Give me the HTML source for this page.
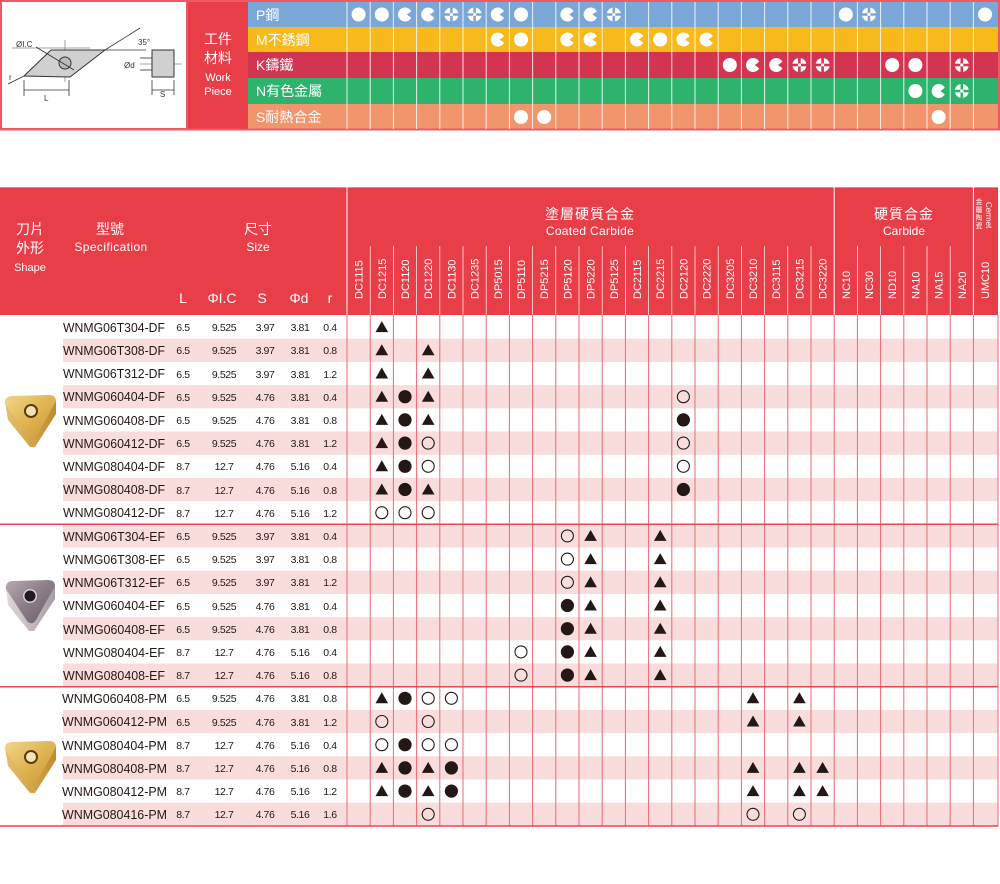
<!DOCTYPE html>
<html><head><meta charset="utf-8"><style>
html,body{margin:0;padding:0;background:#fff;}
svg{display:block;}
text{font-family:"Liberation Sans","Noto Sans CJK TC",sans-serif;}
</style></head><body>
<svg width="1000" height="884" viewBox="0 0 1000 884" xmlns="http://www.w3.org/2000/svg">
<defs>
<path id="C" d="M6.2,-3.2 A7,7 0 1 0 6.2,3.2 L1.8,0 Z" fill="#fff"/>
<circle id="F" r="7" fill="#fff"/>
<circle id="bf" r="6.6" fill="#231815"/>
<circle id="bo" r="6" fill="none" stroke="#231815" stroke-width="1.1"/>
<path id="bt" d="M0,-6 L6.3,5 L-6.3,5 Z" fill="#231815"/>
<linearGradient id="gold" x1="0" y1="0" x2="1" y2="1"><stop offset="0" stop-color="#f2d68c"/><stop offset="0.5" stop-color="#e0b552"/><stop offset="1" stop-color="#c89434"/></linearGradient>
<linearGradient id="goldS" x1="0" y1="0" x2="1" y2="0"><stop offset="0" stop-color="#e6c070"/><stop offset="1" stop-color="#c08a2c"/></linearGradient>
<linearGradient id="gray" x1="0" y1="0" x2="1" y2="1"><stop offset="0" stop-color="#b8aab2"/><stop offset="0.5" stop-color="#8a7c86"/><stop offset="1" stop-color="#6a5e68"/></linearGradient>
<linearGradient id="grayS" x1="0" y1="0" x2="1" y2="0"><stop offset="0" stop-color="#e0d8dc"/><stop offset="1" stop-color="#a89ca4"/></linearGradient>
</defs>

<!-- TOP SECTION -->
<rect x="1" y="1" width="186" height="128" fill="#fff" stroke="#ec5a63" stroke-width="2"/>
<g stroke="#333" stroke-width="0.8" fill="none">
<line x1="12" y1="48" x2="90" y2="48" stroke="#888"/>
<line x1="65" y1="40" x2="65" y2="82" stroke="#888"/>
<line x1="105" y1="50" x2="140" y2="28"/>
<line x1="105" y1="50" x2="146" y2="50"/>
<line x1="24" y1="90" x2="69" y2="90"/>
<line x1="24" y1="80" x2="24" y2="96"/>
<line x1="69" y1="80" x2="69" y2="96"/>
<line x1="152" y1="90" x2="174" y2="90"/>
<line x1="152" y1="80" x2="152" y2="95"/>
<line x1="174" y1="80" x2="174" y2="95"/>
<line x1="140" y1="64" x2="182" y2="64" stroke="#888"/>
<line x1="140" y1="58" x2="152" y2="58"/>
<line x1="140" y1="70" x2="152" y2="70"/>
<line x1="8" y1="84" x2="24" y2="76"/>
</g>
<path d="M24,76 L51,50 L105,50 L70,77 Z" fill="#d0d0d0" stroke="#333" stroke-width="1"/>
<circle cx="65" cy="63" r="6" fill="#bbb" stroke="#333" stroke-width="1"/>
<line x1="36" y1="47" x2="74" y2="70" stroke="#333" stroke-width="0.9"/>
<rect x="152" y="50" width="22" height="27" fill="#d0d0d0" stroke="#333" stroke-width="1"/>
<text x="16" y="47" font-size="8" fill="#333">ØI.C</text>
<text x="138" y="45" font-size="8" fill="#333">35°</text>
<text x="124" y="68" font-size="8" fill="#333">Ød</text>
<text x="44" y="101" font-size="8" fill="#333">L</text>
<text x="160" y="97" font-size="8" fill="#333">S</text>
<text x="9" y="80" font-size="8" fill="#333">r</text>

<rect x="188" y="1" width="60" height="128" fill="#e83e48"/>
<text x="218" y="44" font-size="14" fill="#fff" text-anchor="middle">工件</text>
<text x="218" y="63" font-size="14" fill="#fff" text-anchor="middle">材料</text>
<text x="218" y="81" font-size="11" fill="#fff" text-anchor="middle">Work</text>
<text x="218" y="95" font-size="11" fill="#fff" text-anchor="middle">Piece</text>

<rect x="248" y="2" width="750" height="25" fill="#7ba7d8"/>
<rect x="248" y="27" width="750" height="25" fill="#f8b91b"/>
<rect x="248" y="52" width="750" height="26" fill="#d33550"/>
<rect x="248" y="78" width="750" height="26" fill="#2db36b"/>
<rect x="248" y="104" width="750" height="25" fill="#f0956c"/>
<line x1="0" y1="1" x2="1000" y2="1" stroke="#ec5a63" stroke-width="2"/>
<line x1="0" y1="129.5" x2="1000" y2="129.5" stroke="#ec5a63" stroke-width="2"/>
<line x1="999" y1="0" x2="999" y2="130" stroke="#ec5a63" stroke-width="2"/>
<text x="256" y="20" font-size="14" fill="#fff">P鋼</text>
<text x="256" y="45" font-size="14" fill="#fff">M不銹鋼</text>
<text x="256" y="70" font-size="14" fill="#fff">K鑄鐵</text>
<text x="256" y="96" font-size="14" fill="#fff">N有色金屬</text>
<text x="256" y="122" font-size="14" fill="#fff">S耐熱合金</text>
<g stroke="#fff" stroke-width="1" opacity="0.85">
<line x1="347" y1="2" x2="347" y2="129"/><line x1="370.2" y1="2" x2="370.2" y2="129"/><line x1="393.4" y1="2" x2="393.4" y2="129"/><line x1="416.6" y1="2" x2="416.6" y2="129"/><line x1="439.8" y1="2" x2="439.8" y2="129"/><line x1="463" y1="2" x2="463" y2="129"/><line x1="486.2" y1="2" x2="486.2" y2="129"/><line x1="509.4" y1="2" x2="509.4" y2="129"/><line x1="532.6" y1="2" x2="532.6" y2="129"/><line x1="555.8" y1="2" x2="555.8" y2="129"/><line x1="579" y1="2" x2="579" y2="129"/><line x1="602.2" y1="2" x2="602.2" y2="129"/><line x1="625.4" y1="2" x2="625.4" y2="129"/><line x1="648.6" y1="2" x2="648.6" y2="129"/><line x1="671.8" y1="2" x2="671.8" y2="129"/><line x1="695" y1="2" x2="695" y2="129"/><line x1="718.2" y1="2" x2="718.2" y2="129"/><line x1="741.4" y1="2" x2="741.4" y2="129"/><line x1="764.6" y1="2" x2="764.6" y2="129"/><line x1="787.8" y1="2" x2="787.8" y2="129"/><line x1="811" y1="2" x2="811" y2="129"/><line x1="834.2" y1="2" x2="834.2" y2="129"/><line x1="857.4" y1="2" x2="857.4" y2="129"/><line x1="880.6" y1="2" x2="880.6" y2="129"/><line x1="903.8" y1="2" x2="903.8" y2="129"/><line x1="927" y1="2" x2="927" y2="129"/><line x1="950.2" y1="2" x2="950.2" y2="129"/><line x1="973.4" y1="2" x2="973.4" y2="129"/>
</g>
<!-- P row -->
<use href="#F" x="358.6" y="14.5"/><use href="#F" x="381.8" y="14.5"/><use href="#C" x="405" y="14.5"/><use href="#C" x="428.2" y="14.5"/>
<g transform="translate(451.4,14.5)"><circle r="7" fill="#fff"/><rect x="-8" y="-1.3" width="16" height="2.6" fill="#7ba7d8"/><rect x="-1.3" y="-8" width="2.6" height="16" fill="#7ba7d8"/><circle r="1.6" fill="#fff"/></g>
<g transform="translate(474.6,14.5)"><circle r="7" fill="#fff"/><rect x="-8" y="-1.3" width="16" height="2.6" fill="#7ba7d8"/><rect x="-1.3" y="-8" width="2.6" height="16" fill="#7ba7d8"/><circle r="1.6" fill="#fff"/></g>
<use href="#C" x="497.8" y="14.5"/><use href="#F" x="521" y="14.5"/><use href="#C" x="567.4" y="14.5"/><use href="#C" x="590.6" y="14.5"/>
<g transform="translate(613.8,14.5)"><circle r="7" fill="#fff"/><rect x="-8" y="-1.3" width="16" height="2.6" fill="#7ba7d8"/><rect x="-1.3" y="-8" width="2.6" height="16" fill="#7ba7d8"/><circle r="1.6" fill="#fff"/></g>
<use href="#F" x="845.8" y="14.5"/>
<g transform="translate(869,14.5)"><circle r="7" fill="#fff"/><rect x="-8" y="-1.3" width="16" height="2.6" fill="#7ba7d8"/><rect x="-1.3" y="-8" width="2.6" height="16" fill="#7ba7d8"/><circle r="1.6" fill="#fff"/></g>
<use href="#F" x="985" y="14.5"/>
<!-- M row -->
<use href="#C" x="497.8" y="39.5"/><use href="#F" x="521" y="39.5"/><use href="#C" x="567.4" y="39.5"/><use href="#C" x="590.6" y="39.5"/><use href="#C" x="637" y="39.5"/><use href="#F" x="660.2" y="39.5"/><use href="#C" x="683.4" y="39.5"/><use href="#C" x="706.6" y="39.5"/>
<!-- K row -->
<use href="#F" x="729.8" y="65"/><use href="#C" x="753" y="65"/><use href="#C" x="776.2" y="65"/>
<g transform="translate(799.4,65)"><circle r="7" fill="#fff"/><rect x="-8" y="-1.3" width="16" height="2.6" fill="#d33550"/><rect x="-1.3" y="-8" width="2.6" height="16" fill="#d33550"/><circle r="1.6" fill="#fff"/></g>
<g transform="translate(822.6,65)"><circle r="7" fill="#fff"/><rect x="-8" y="-1.3" width="16" height="2.6" fill="#d33550"/><rect x="-1.3" y="-8" width="2.6" height="16" fill="#d33550"/><circle r="1.6" fill="#fff"/></g>
<use href="#F" x="892.2" y="65"/><use href="#F" x="915.4" y="65"/>
<g transform="translate(961.8,65)"><circle r="7" fill="#fff"/><rect x="-8" y="-1.3" width="16" height="2.6" fill="#d33550"/><rect x="-1.3" y="-8" width="2.6" height="16" fill="#d33550"/><circle r="1.6" fill="#fff"/></g>
<!-- N row -->
<use href="#F" x="915.4" y="91"/><use href="#C" x="938.6" y="91"/>
<g transform="translate(961.8,91)"><circle r="7" fill="#fff"/><rect x="-8" y="-1.3" width="16" height="2.6" fill="#2db36b"/><rect x="-1.3" y="-8" width="2.6" height="16" fill="#2db36b"/><circle r="1.6" fill="#fff"/></g>
<!-- S row -->
<use href="#F" x="521" y="117"/><use href="#F" x="544.2" y="117"/><use href="#F" x="938.6" y="117"/>

<!-- MAIN HEADER -->
<rect x="0" y="187" width="998" height="128" fill="#e83e48"/>
<line x1="0" y1="187.5" x2="998" y2="187.5" stroke="#f08088" stroke-width="1"/>
<text x="30" y="234" font-size="14" fill="#fff" text-anchor="middle">刀片</text>
<text x="30" y="253" font-size="14" fill="#fff" text-anchor="middle">外形</text>
<text x="30" y="271" font-size="11" fill="#fff" text-anchor="middle">Shape</text>
<text x="110" y="234" font-size="14" fill="#fff" text-anchor="middle">型號</text>
<text x="111" y="251" font-size="12" fill="#fff" text-anchor="middle" letter-spacing="0.4">Specification</text>
<text x="258" y="234" font-size="14" fill="#fff" text-anchor="middle">尺寸</text>
<text x="258" y="251" font-size="12" fill="#fff" text-anchor="middle">Size</text>
<text x="183" y="303" font-size="14" fill="#fff" text-anchor="middle">L</text>
<text x="222" y="303" font-size="14" fill="#fff" text-anchor="middle">ΦI.C</text>
<text x="262" y="303" font-size="14" fill="#fff" text-anchor="middle">S</text>
<text x="299" y="303" font-size="14" fill="#fff" text-anchor="middle">Φd</text>
<text x="330" y="303" font-size="14" fill="#fff" text-anchor="middle">r</text>
<text x="590" y="219" font-size="14" fill="#fff" text-anchor="middle" letter-spacing="1">塗層硬質合金</text>
<text x="590" y="235" font-size="12" fill="#fff" text-anchor="middle" letter-spacing="0.3">Coated Carbide</text>
<text x="904" y="219" font-size="14" fill="#fff" text-anchor="middle" letter-spacing="1">硬質合金</text>
<text x="904" y="235" font-size="12" fill="#fff" text-anchor="middle">Carbide</text>
<text x="979" y="204" font-size="7" fill="#fff" text-anchor="middle">金</text>
<text x="979" y="212" font-size="7" fill="#fff" text-anchor="middle">屬</text>
<text x="979" y="220" font-size="7" fill="#fff" text-anchor="middle">陶</text>
<text x="979" y="228" font-size="7" fill="#fff" text-anchor="middle">瓷</text>
<text transform="translate(986,202) rotate(90)" font-size="8" fill="#fff">Cermet</text>
<g stroke="#fff" stroke-width="1">
<line x1="347" y1="187" x2="347" y2="315"/><line x1="834.2" y1="187" x2="834.2" y2="315"/><line x1="973.4" y1="187" x2="973.4" y2="315"/>
</g>
<g stroke="#fff" stroke-width="0.8" opacity="0.85">
<line x1="370.2" y1="246" x2="370.2" y2="315"/><line x1="393.4" y1="246" x2="393.4" y2="315"/><line x1="416.6" y1="246" x2="416.6" y2="315"/><line x1="439.8" y1="246" x2="439.8" y2="315"/><line x1="463" y1="246" x2="463" y2="315"/><line x1="486.2" y1="246" x2="486.2" y2="315"/><line x1="509.4" y1="246" x2="509.4" y2="315"/><line x1="532.6" y1="246" x2="532.6" y2="315"/><line x1="555.8" y1="246" x2="555.8" y2="315"/><line x1="579" y1="246" x2="579" y2="315"/><line x1="602.2" y1="246" x2="602.2" y2="315"/><line x1="625.4" y1="246" x2="625.4" y2="315"/><line x1="648.6" y1="246" x2="648.6" y2="315"/><line x1="671.8" y1="246" x2="671.8" y2="315"/><line x1="695" y1="246" x2="695" y2="315"/><line x1="718.2" y1="246" x2="718.2" y2="315"/><line x1="741.4" y1="246" x2="741.4" y2="315"/><line x1="764.6" y1="246" x2="764.6" y2="315"/><line x1="787.8" y1="246" x2="787.8" y2="315"/><line x1="811" y1="246" x2="811" y2="315"/><line x1="857.4" y1="246" x2="857.4" y2="315"/><line x1="880.6" y1="246" x2="880.6" y2="315"/><line x1="903.8" y1="246" x2="903.8" y2="315"/><line x1="927" y1="246" x2="927" y2="315"/><line x1="950.2" y1="246" x2="950.2" y2="315"/>
</g>
<g font-size="11" fill="#fff">
<text transform="translate(362.6,299) rotate(-90)">DC1115</text>
<text transform="translate(385.8,299) rotate(-90)">DC1215</text>
<text transform="translate(409,299) rotate(-90)">DC1120</text>
<text transform="translate(432.2,299) rotate(-90)">DC1220</text>
<text transform="translate(455.4,299) rotate(-90)">DC1130</text>
<text transform="translate(478.6,299) rotate(-90)">DC1235</text>
<text transform="translate(501.8,299) rotate(-90)">DP5015</text>
<text transform="translate(525,299) rotate(-90)">DP5110</text>
<text transform="translate(548.2,299) rotate(-90)">DP5215</text>
<text transform="translate(571.4,299) rotate(-90)">DP5120</text>
<text transform="translate(594.6,299) rotate(-90)">DP5220</text>
<text transform="translate(617.8,299) rotate(-90)">DP5125</text>
<text transform="translate(641,299) rotate(-90)">DC2115</text>
<text transform="translate(664.2,299) rotate(-90)">DC2215</text>
<text transform="translate(687.4,299) rotate(-90)">DC2120</text>
<text transform="translate(710.6,299) rotate(-90)">DC2220</text>
<text transform="translate(733.8,299) rotate(-90)">DC3205</text>
<text transform="translate(757,299) rotate(-90)">DC3210</text>
<text transform="translate(780.2,299) rotate(-90)">DC3115</text>
<text transform="translate(803.4,299) rotate(-90)">DC3215</text>
<text transform="translate(826.6,299) rotate(-90)">DC3220</text>
<text transform="translate(849.8,299) rotate(-90)">NC10</text>
<text transform="translate(873,299) rotate(-90)">NC30</text>
<text transform="translate(896.2,299) rotate(-90)">ND10</text>
<text transform="translate(919.4,299) rotate(-90)">NA10</text>
<text transform="translate(942.6,299) rotate(-90)">NA15</text>
<text transform="translate(965.8,299) rotate(-90)">NA20</text>
<text transform="translate(989,299) rotate(-90)">UMC10</text>
</g>

<!-- BODY pink rows (odd j) -->
<g fill="#f9dcdc">
<rect x="63" y="338.7" width="935" height="23.2"/>
<rect x="63" y="385.1" width="935" height="23.2"/>
<rect x="63" y="431.5" width="935" height="23.2"/>
<rect x="63" y="477.9" width="935" height="23.2"/>
<rect x="63" y="524.3" width="935" height="23.2"/>
<rect x="63" y="570.7" width="935" height="23.2"/>
<rect x="63" y="617.1" width="935" height="23.2"/>
<rect x="63" y="663.5" width="935" height="23.2"/>
<rect x="63" y="709.9" width="935" height="23.2"/>
<rect x="63" y="756.3" width="935" height="23.2"/>
<rect x="63" y="802.7" width="935" height="23.2"/>
</g>
<g stroke="#ef6870" stroke-width="1">
<line x1="347" y1="315" x2="347" y2="826"/><line x1="370.2" y1="315" x2="370.2" y2="826"/><line x1="393.4" y1="315" x2="393.4" y2="826"/><line x1="416.6" y1="315" x2="416.6" y2="826"/><line x1="439.8" y1="315" x2="439.8" y2="826"/><line x1="463" y1="315" x2="463" y2="826"/><line x1="486.2" y1="315" x2="486.2" y2="826"/><line x1="509.4" y1="315" x2="509.4" y2="826"/><line x1="532.6" y1="315" x2="532.6" y2="826"/><line x1="555.8" y1="315" x2="555.8" y2="826"/><line x1="579" y1="315" x2="579" y2="826"/><line x1="602.2" y1="315" x2="602.2" y2="826"/><line x1="625.4" y1="315" x2="625.4" y2="826"/><line x1="648.6" y1="315" x2="648.6" y2="826"/><line x1="671.8" y1="315" x2="671.8" y2="826"/><line x1="695" y1="315" x2="695" y2="826"/><line x1="718.2" y1="315" x2="718.2" y2="826"/><line x1="741.4" y1="315" x2="741.4" y2="826"/><line x1="764.6" y1="315" x2="764.6" y2="826"/><line x1="787.8" y1="315" x2="787.8" y2="826"/><line x1="811" y1="315" x2="811" y2="826"/><line x1="834.2" y1="315" x2="834.2" y2="826"/><line x1="857.4" y1="315" x2="857.4" y2="826"/><line x1="880.6" y1="315" x2="880.6" y2="826"/><line x1="903.8" y1="315" x2="903.8" y2="826"/><line x1="927" y1="315" x2="927" y2="826"/><line x1="950.2" y1="315" x2="950.2" y2="826"/><line x1="973.4" y1="315" x2="973.4" y2="826"/><line x1="998" y1="315" x2="998" y2="826"/>
</g>
<g stroke="#e8474f" stroke-width="1.5">
<line x1="0" y1="524.3" x2="998" y2="524.3"/><line x1="0" y1="686.7" x2="998" y2="686.7"/><line x1="0" y1="826" x2="998" y2="826"/>
</g>

<!-- insert images -->
<g>
<path d="M5,402 L8,420 L30,447 L35,447 L56,414 L56,401 Z" fill="url(#goldS)"/>
<path d="M5,401 Q6,396 12,396 L49,395 Q56,395 56,401 L37,436 Q33,442 28,437 L7,407 Q4,404 5,401 Z" fill="url(#gold)"/>
<circle cx="31" cy="411" r="7" fill="#5a3c10"/>
<circle cx="31" cy="411" r="5" fill="#f4e3b4"/>
<path d="M6,587 L8,605 L29,631 L34,631 L55,599 L55,586 Z" fill="url(#grayS)"/>
<path d="M6,586 Q7,581 13,581 L48,580 Q55,580 55,586 L36,620 Q32,626 27,621 L8,592 Q5,589 6,586 Z" fill="url(#gray)"/>
<circle cx="30" cy="596" r="7" fill="#d8d0d4"/>
<circle cx="30" cy="596" r="5.5" fill="#1e1a20"/>
<path d="M5,748 L8,766 L30,793 L35,793 L56,760 L56,747 Z" fill="url(#goldS)"/>
<path d="M5,747 Q6,742 12,742 L49,741 Q56,741 56,747 L37,782 Q33,788 28,783 L7,753 Q4,750 5,747 Z" fill="url(#gold)"/>
<circle cx="31" cy="757" r="7" fill="#5a3c10"/>
<circle cx="31" cy="757" r="5" fill="#f4e3b4"/>
</g>

<!-- model & size text -->
<g font-size="13" fill="#231815">
<text x="63" y="332" textLength="102" lengthAdjust="spacingAndGlyphs">WNMG06T304-DF</text>
<text x="63" y="355" textLength="102" lengthAdjust="spacingAndGlyphs">WNMG06T308-DF</text>
<text x="63" y="378" textLength="102" lengthAdjust="spacingAndGlyphs">WNMG06T312-DF</text>
<text x="63" y="401" textLength="102" lengthAdjust="spacingAndGlyphs">WNMG060404-DF</text>
<text x="63" y="425" textLength="102" lengthAdjust="spacingAndGlyphs">WNMG060408-DF</text>
<text x="63" y="448" textLength="102" lengthAdjust="spacingAndGlyphs">WNMG060412-DF</text>
<text x="63" y="471" textLength="102" lengthAdjust="spacingAndGlyphs">WNMG080404-DF</text>
<text x="63" y="494" textLength="102" lengthAdjust="spacingAndGlyphs">WNMG080408-DF</text>
<text x="63" y="517" textLength="102" lengthAdjust="spacingAndGlyphs">WNMG080412-DF</text>
<text x="63" y="541" textLength="102" lengthAdjust="spacingAndGlyphs">WNMG06T304-EF</text>
<text x="63" y="564" textLength="102" lengthAdjust="spacingAndGlyphs">WNMG06T308-EF</text>
<text x="63" y="587" textLength="102" lengthAdjust="spacingAndGlyphs">WNMG06T312-EF</text>
<text x="63" y="610" textLength="102" lengthAdjust="spacingAndGlyphs">WNMG060404-EF</text>
<text x="63" y="634" textLength="102" lengthAdjust="spacingAndGlyphs">WNMG060408-EF</text>
<text x="63" y="657" textLength="102" lengthAdjust="spacingAndGlyphs">WNMG080404-EF</text>
<text x="63" y="680" textLength="102" lengthAdjust="spacingAndGlyphs">WNMG080408-EF</text>
<text x="62" y="703" textLength="105" lengthAdjust="spacingAndGlyphs">WNMG060408-PM</text>
<text x="62" y="726" textLength="105" lengthAdjust="spacingAndGlyphs">WNMG060412-PM</text>
<text x="62" y="750" textLength="105" lengthAdjust="spacingAndGlyphs">WNMG080404-PM</text>
<text x="62" y="773" textLength="105" lengthAdjust="spacingAndGlyphs">WNMG080408-PM</text>
<text x="62" y="796" textLength="105" lengthAdjust="spacingAndGlyphs">WNMG080412-PM</text>
<text x="62" y="819" textLength="105" lengthAdjust="spacingAndGlyphs">WNMG080416-PM</text>
</g>
<g font-size="10.5" fill="#231815" text-anchor="middle" letter-spacing="-0.4">
<text x="183" y="331">6.5</text><text x="224" y="331">9.525</text><text x="265" y="331">3.97</text><text x="300" y="331">3.81</text><text x="330" y="331">0.4</text>
<text x="183" y="354">6.5</text><text x="224" y="354">9.525</text><text x="265" y="354">3.97</text><text x="300" y="354">3.81</text><text x="330" y="354">0.8</text>
<text x="183" y="378">6.5</text><text x="224" y="378">9.525</text><text x="265" y="378">3.97</text><text x="300" y="378">3.81</text><text x="330" y="378">1.2</text>
<text x="183" y="401">6.5</text><text x="224" y="401">9.525</text><text x="265" y="401">4.76</text><text x="300" y="401">3.81</text><text x="330" y="401">0.4</text>
<text x="183" y="424">6.5</text><text x="224" y="424">9.525</text><text x="265" y="424">4.76</text><text x="300" y="424">3.81</text><text x="330" y="424">0.8</text>
<text x="183" y="447">6.5</text><text x="224" y="447">9.525</text><text x="265" y="447">4.76</text><text x="300" y="447">3.81</text><text x="330" y="447">1.2</text>
<text x="183" y="470">8.7</text><text x="224" y="470">12.7</text><text x="265" y="470">4.76</text><text x="300" y="470">5.16</text><text x="330" y="470">0.4</text>
<text x="183" y="494">8.7</text><text x="224" y="494">12.7</text><text x="265" y="494">4.76</text><text x="300" y="494">5.16</text><text x="330" y="494">0.8</text>
<text x="183" y="517">8.7</text><text x="224" y="517">12.7</text><text x="265" y="517">4.76</text><text x="300" y="517">5.16</text><text x="330" y="517">1.2</text>
<text x="183" y="540">6.5</text><text x="224" y="540">9.525</text><text x="265" y="540">3.97</text><text x="300" y="540">3.81</text><text x="330" y="540">0.4</text>
<text x="183" y="563">6.5</text><text x="224" y="563">9.525</text><text x="265" y="563">3.97</text><text x="300" y="563">3.81</text><text x="330" y="563">0.8</text>
<text x="183" y="586">6.5</text><text x="224" y="586">9.525</text><text x="265" y="586">3.97</text><text x="300" y="586">3.81</text><text x="330" y="586">1.2</text>
<text x="183" y="610">6.5</text><text x="224" y="610">9.525</text><text x="265" y="610">4.76</text><text x="300" y="610">3.81</text><text x="330" y="610">0.4</text>
<text x="183" y="633">6.5</text><text x="224" y="633">9.525</text><text x="265" y="633">4.76</text><text x="300" y="633">3.81</text><text x="330" y="633">0.8</text>
<text x="183" y="656">8.7</text><text x="224" y="656">12.7</text><text x="265" y="656">4.76</text><text x="300" y="656">5.16</text><text x="330" y="656">0.4</text>
<text x="183" y="679">8.7</text><text x="224" y="679">12.7</text><text x="265" y="679">4.76</text><text x="300" y="679">5.16</text><text x="330" y="679">0.8</text>
<text x="183" y="702">6.5</text><text x="224" y="702">9.525</text><text x="265" y="702">4.76</text><text x="300" y="702">3.81</text><text x="330" y="702">0.8</text>
<text x="183" y="726">6.5</text><text x="224" y="726">9.525</text><text x="265" y="726">4.76</text><text x="300" y="726">3.81</text><text x="330" y="726">1.2</text>
<text x="183" y="749">8.7</text><text x="224" y="749">12.7</text><text x="265" y="749">4.76</text><text x="300" y="749">5.16</text><text x="330" y="749">0.4</text>
<text x="183" y="772">8.7</text><text x="224" y="772">12.7</text><text x="265" y="772">4.76</text><text x="300" y="772">5.16</text><text x="330" y="772">0.8</text>
<text x="183" y="795">8.7</text><text x="224" y="795">12.7</text><text x="265" y="795">4.76</text><text x="300" y="795">5.16</text><text x="330" y="795">1.2</text>
<text x="183" y="818">8.7</text><text x="224" y="818">12.7</text><text x="265" y="818">4.76</text><text x="300" y="818">5.16</text><text x="330" y="818">1.6</text>
</g>

<!-- DF -->
<use href="#bt" x="381.8" y="327.1"/>
<use href="#bt" x="381.8" y="350.3"/><use href="#bt" x="428.2" y="350.3"/>
<use href="#bt" x="381.8" y="373.5"/><use href="#bt" x="428.2" y="373.5"/>
<use href="#bt" x="381.8" y="396.7"/><use href="#bf" x="405" y="396.7"/><use href="#bt" x="428.2" y="396.7"/><use href="#bo" x="683.4" y="396.7"/>
<use href="#bt" x="381.8" y="419.9"/><use href="#bf" x="405" y="419.9"/><use href="#bt" x="428.2" y="419.9"/><use href="#bf" x="683.4" y="419.9"/>
<use href="#bt" x="381.8" y="443.1"/><use href="#bf" x="405" y="443.1"/><use href="#bo" x="428.2" y="443.1"/><use href="#bo" x="683.4" y="443.1"/>
<use href="#bt" x="381.8" y="466.3"/><use href="#bf" x="405" y="466.3"/><use href="#bo" x="428.2" y="466.3"/><use href="#bo" x="683.4" y="466.3"/>
<use href="#bt" x="381.8" y="489.5"/><use href="#bf" x="405" y="489.5"/><use href="#bt" x="428.2" y="489.5"/><use href="#bf" x="683.4" y="489.5"/>
<use href="#bo" x="381.8" y="512.7"/><use href="#bo" x="405" y="512.7"/><use href="#bo" x="428.2" y="512.7"/>
<!-- EF -->
<use href="#bo" x="567.4" y="535.9"/><use href="#bt" x="590.6" y="535.9"/><use href="#bt" x="660.2" y="535.9"/>
<use href="#bo" x="567.4" y="559.1"/><use href="#bt" x="590.6" y="559.1"/><use href="#bt" x="660.2" y="559.1"/>
<use href="#bo" x="567.4" y="582.3"/><use href="#bt" x="590.6" y="582.3"/><use href="#bt" x="660.2" y="582.3"/>
<use href="#bf" x="567.4" y="605.5"/><use href="#bt" x="590.6" y="605.5"/><use href="#bt" x="660.2" y="605.5"/>
<use href="#bf" x="567.4" y="628.7"/><use href="#bt" x="590.6" y="628.7"/><use href="#bt" x="660.2" y="628.7"/>
<use href="#bo" x="521" y="651.9"/><use href="#bf" x="567.4" y="651.9"/><use href="#bt" x="590.6" y="651.9"/><use href="#bt" x="660.2" y="651.9"/>
<use href="#bo" x="521" y="675.1"/><use href="#bf" x="567.4" y="675.1"/><use href="#bt" x="590.6" y="675.1"/><use href="#bt" x="660.2" y="675.1"/>
<!-- PM -->
<use href="#bt" x="381.8" y="698.3"/><use href="#bf" x="405" y="698.3"/><use href="#bo" x="428.2" y="698.3"/><use href="#bo" x="451.4" y="698.3"/><use href="#bt" x="753" y="698.3"/><use href="#bt" x="799.4" y="698.3"/>
<use href="#bo" x="381.8" y="721.5"/><use href="#bo" x="428.2" y="721.5"/><use href="#bt" x="753" y="721.5"/><use href="#bt" x="799.4" y="721.5"/>
<use href="#bo" x="381.8" y="744.7"/><use href="#bf" x="405" y="744.7"/><use href="#bo" x="428.2" y="744.7"/><use href="#bo" x="451.4" y="744.7"/>
<use href="#bt" x="381.8" y="767.9"/><use href="#bf" x="405" y="767.9"/><use href="#bt" x="428.2" y="767.9"/><use href="#bf" x="451.4" y="767.9"/><use href="#bt" x="753" y="767.9"/><use href="#bt" x="799.4" y="767.9"/><use href="#bt" x="822.6" y="767.9"/>
<use href="#bt" x="381.8" y="791.1"/><use href="#bf" x="405" y="791.1"/><use href="#bt" x="428.2" y="791.1"/><use href="#bf" x="451.4" y="791.1"/><use href="#bt" x="753" y="791.1"/><use href="#bt" x="799.4" y="791.1"/><use href="#bt" x="822.6" y="791.1"/>
<use href="#bo" x="428.2" y="814.3"/><use href="#bo" x="753" y="814.3"/><use href="#bo" x="799.4" y="814.3"/>
</svg>
</body></html>
